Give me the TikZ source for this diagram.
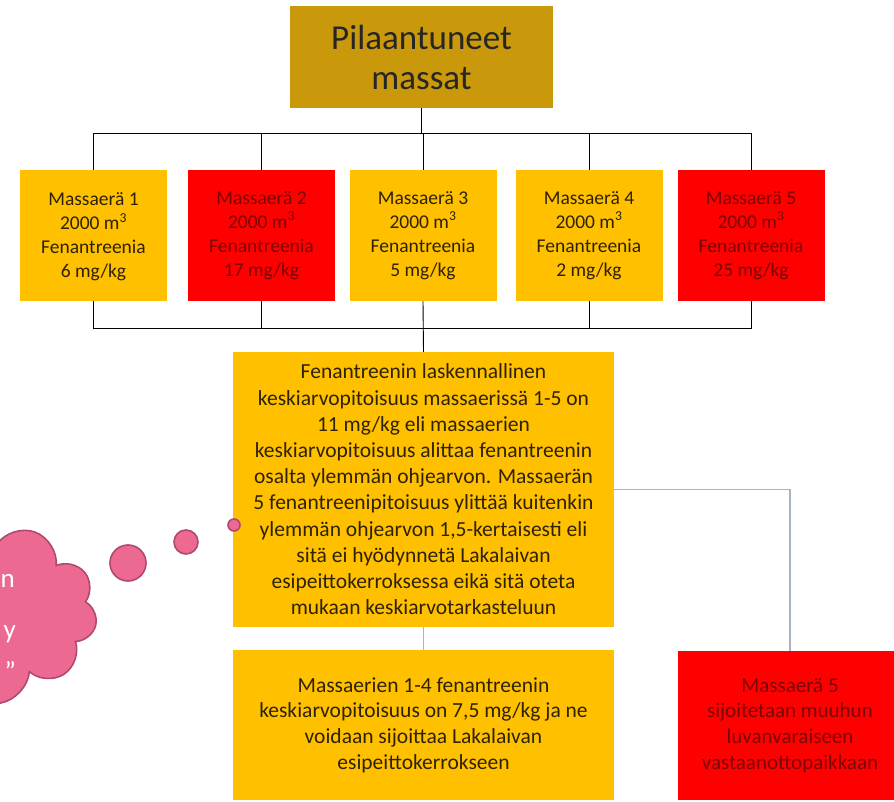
\documentclass[tikz,border=0pt]{standalone}
\usepackage{fontspec}
\setmainfont{Carlito}
\usetikzlibrary{shapes.symbols,calc}
\definecolor{gold}{HTML}{C9980B}
\definecolor{amber}{HTML}{FFC000}
\definecolor{redbox}{HTML}{FF0000}
\definecolor{darktxt}{HTML}{2E2203}
\definecolor{redtxt}{HTML}{7A0505}
\definecolor{pink}{HTML}{EC6A91}
\definecolor{pinkedge}{HTML}{B24870}
\definecolor{grayline}{HTML}{A9B4C2}
\tikzset{
  box/.style={rectangle, inner sep=1pt, align=center, font=\fontsize{19.5}{24}\selectfont},
  ybox/.style={box, fill=amber, text=darktxt},
  rbox/.style={box, fill=redbox, text=redtxt},
  conn/.style={draw=black, line width=0.9pt},
  gconn/.style={draw=grayline, line width=1.1pt},
  bubble/.style={circle, fill=pink, draw=pinkedge, line width=1.6pt, inner sep=0pt},
  cloudtxt/.style={text=white, font=\fontsize{27}{30}\selectfont}
}
\begin{document}
\begin{tikzpicture}[x=1pt,y=-1pt]
\useasboundingbox (0,0) rectangle (894,802);
% cloud
\node[cloud, cloud puffs=11, aspect=1.3, fill=pink, draw=pinkedge, line width=1.6pt,
      minimum width=270pt, minimum height=190pt] (cl) at (-38,612) {};
\node[cloudtxt, anchor=base west] (c1) at (-3,587) {n};
\node[cloudtxt, anchor=base west] (c2) at (0,638) {y};
\node[cloudtxt, anchor=base west] (c3) at (1,680) {”};
% top
\node[box, fill=gold, text=black!85, minimum width=263pt, minimum height=102pt,
      font=\fontsize{35}{40}\selectfont] (top) at (421.5,57) {Pilaantuneet\\massat};
% row
\node[ybox, minimum width=147pt, minimum height=131pt, text depth=0pt] (b1) at (93.5,235.5) {Massaerä 1\\2000 m\textsuperscript{3}\\Fenantreenia\\6 mg/kg};
\node[rbox, minimum width=147pt, minimum height=131pt] (b2) at (261.5,235.5) {Massaerä 2\\2000 m\textsuperscript{3}\\Fenantreenia\\17 mg/kg};
\node[ybox, minimum width=147pt, minimum height=131pt] (b3) at (423,235.5) {Massaerä 3\\2000 m\textsuperscript{3}\\Fenantreenia\\5 mg/kg};
\node[ybox, minimum width=147pt, minimum height=131pt] (b4) at (589,235.5) {Massaerä 4\\2000 m\textsuperscript{3}\\Fenantreenia\\2 mg/kg};
\node[rbox, minimum width=147pt, minimum height=131pt] (b5) at (751,235.5) {Massaerä 5\\2000 m\textsuperscript{3}\\Fenantreenia\\25 mg/kg};
% middle
\node[ybox, minimum width=381pt, minimum height=275pt, font=\fontsize{21.5}{26.2}\selectfont] (mid) at (423.5,489.5)
 {Fenantreenin laskennallinen\\keskiarvopitoisuus massaerissä 1-5 on\\11 mg/kg eli massaerien\\keskiarvopitoisuus alittaa fenantreenin\\osalta ylemmän ohjearvon. Massaerän\\5 fenantreenipitoisuus ylittää kuitenkin\\ylemmän ohjearvon 1,5-kertaisesti eli\\sitä ei hyödynnetä Lakalaivan\\esipeittokerroksessa eikä sitä oteta\\mukaan keskiarvotarkasteluun};
\node[ybox, minimum width=381pt, minimum height=150pt, font=\fontsize{21.5}{25.7}\selectfont] (low) at (423.5,725)
 {Massaerien 1-4 fenantreenin\\keskiarvopitoisuus on 7,5 mg/kg ja ne\\voidaan sijoittaa Lakalaivan\\esipeittokerrokseen};
\node[rbox, minimum width=224pt, minimum height=149pt, font=\fontsize{21}{25.7}\selectfont] (red) at (790,725.5)
 {Massaerä 5\\sijoitetaan muuhun\\luvanvaraiseen\\vastaanottopaikkaan};
% bubbles
\node[bubble, minimum size=36pt] (bb1) at (128,563) {};
\node[bubble, minimum size=24pt] (bb2) at (186,542) {};
\node[bubble, minimum size=12pt] (bb3) at (234,525) {};
% buses
\coordinate (busT) at (0,133);
\coordinate (busB) at (0,328);
\draw[conn] (b1.north) -- (b1.north |- busT) -- (b5.north |- busT) -- (b5.north);
\draw[conn] (top.south) -- (top.south |- busT);
\draw[conn] (b2.north) -- (b2.north |- busT);
\draw[conn] (b3.north) -- (b3.north |- busT);
\draw[conn] (b4.north) -- (b4.north |- busT);
\draw[conn] (b1.south) -- (b1.south |- busB) -- (b5.south |- busB) -- (b5.south);
\draw[conn] (b2.south) -- (b2.south |- busB);
\draw[conn] (b4.south) -- (b4.south |- busB);
\draw[conn] (b3.south) -- (mid.north);
\draw[gconn] (mid.south) -- (low.north);
\draw[gconn] (mid.east) -| (red.north);
\end{tikzpicture}
\end{document}
